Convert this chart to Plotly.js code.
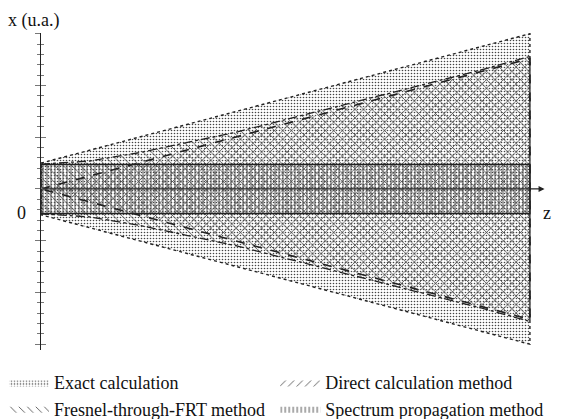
<!DOCTYPE html>
<html>
<head>
<meta charset="utf-8">
<script src="https://cdn.plot.ly/plotly-3.0.1.min.js"></script>
<style>html,body{margin:0;padding:0;background:#fff;}#chart{width:561px;height:419px;}</style>
</head>
<body>
<div id="chart"></div>
<script>
// ---- data ----
const seriesNames = ['Exact calculation', 'Direct calculation method', 'Fresnel-through-FRT method', 'Spectrum propagation method'];
const zExact = [0, 10];
const hwExact = [2.5, 15.0];
const zDirect = [0, 10];
const hwDirect = [0, 12.6];
const zFresnel = [0, 1, 2, 3, 4, 5, 6, 7, 8, 9, 10];
const hwFresnel = [2.4, 2.7, 3.5, 4.5, 5.5, 6.7, 7.9, 9.1, 10.3, 11.5, 12.8];
const zSpectrum = [0, 10];
const hwSpectrum = [2.37, 2.37];
const zAxisEnd = 10.3;

function polygon(z, hw) {
  const xs = [], ys = [];
  for (let i = 0; i < z.length; i++) { xs.push(z[i]); ys.push(hw[i]); }
  for (let i = z.length - 1; i >= 0; i--) { xs.push(z[i]); ys.push(-hw[i]); }
  xs.push(z[0]); ys.push(hw[0]);
  return {x: xs, y: ys};
}

const serif = '"Liberation Serif", "Times New Roman", serif';
const pExact = polygon(zExact, hwExact);
const pDirect = polygon(zDirect, hwDirect);
const pFresnel = polygon(zFresnel, hwFresnel);
const pSpectrum = polygon(zSpectrum, hwSpectrum);

function fillTrace(p, name, pattern, legend) {
  return {x: p.x, y: p.y, type: 'scatter', mode: 'lines', fill: 'toself', name: name,
    fillcolor: 'rgba(0,0,0,0)', line: {width: 0, color: '#333'}, fillpattern: pattern,
    legend: legend, hoverinfo: 'skip'};
}
function edgeTrace(p, dash, width) {
  return {x: p.x, y: p.y, type: 'scatter', mode: 'lines', showlegend: false,
    line: {color: '#222', width: width, dash: dash}, hoverinfo: 'skip'};
}

const traces = [
  fillTrace(pExact, seriesNames[0], {shape: '.', size: 3, solidity: 0.22, fgcolor: '#444', bgcolor: 'rgba(0,0,0,0)', fillmode: 'replace'}, 'legend'),
  fillTrace(pDirect, seriesNames[1], {shape: '/', size: 6, solidity: 0.15, fgcolor: '#555', bgcolor: 'rgba(0,0,0,0)', fillmode: 'replace'}, 'legend2'),
  fillTrace(pFresnel, seriesNames[2], {shape: '\\', size: 6, solidity: 0.15, fgcolor: '#555', bgcolor: 'rgba(0,0,0,0)', fillmode: 'replace'}, 'legend'),
  fillTrace(pSpectrum, seriesNames[3], {shape: '|', size: 4, solidity: 0.25, fgcolor: '#555', bgcolor: 'rgba(0,0,0,0)', fillmode: 'replace'}, 'legend2'),
  edgeTrace(pExact, 'dot', 1.4),
  edgeTrace(pFresnel, 'dashdot', 1.3),
  edgeTrace(pDirect, 'dash', 1.6),
  edgeTrace(pSpectrum, 'solid', 1.4),
  {x: [], y: [], yaxis: 'y2', type: 'scatter', showlegend: false}
];

const yRange = [-15.56, 15.07];
const legendFont = {family: serif, size: 18, color: '#111'};
const labelFont = {family: serif, size: 18, color: '#111'};
const layout = {
  width: 561, height: 419,
  margin: {l: 41, r: 13, t: 33, b: 69, pad: 0, autoexpand: false},
  paper_bgcolor: '#fff', plot_bgcolor: 'rgba(0,0,0,0)',
  showlegend: true,
  font: {family: serif, size: 18, color: '#111'},
  xaxis: {range: [0, 10.37], visible: false, fixedrange: true},
  yaxis: {range: yRange, showgrid: false, zeroline: false, showline: true, linecolor: '#222', linewidth: 1.3,
    ticks: 'outside', ticklen: 5, tickwidth: 1, tickcolor: '#777', tick0: 0, dtick: 5, showticklabels: false,
    minor: {ticks: 'outside', ticklen: 3, tickwidth: 1, tickcolor: '#777', dtick: 1, tick0: 0, showgrid: false}},
  yaxis2: {range: yRange, overlaying: 'y', side: 'left', anchor: 'x', showgrid: false, zeroline: false, showline: false,
    ticks: 'inside', ticklen: 5, tickwidth: 1, tickcolor: '#777', tick0: 0, dtick: 5, showticklabels: false,
    minor: {ticks: 'inside', ticklen: 3, tickwidth: 1, tickcolor: '#777', dtick: 1, tick0: 0, showgrid: false}},
  legend: {x: -0.073, xanchor: 'left', y: -0.045, yanchor: 'top', orientation: 'v', itemwidth: 40,
    font: legendFont, bgcolor: 'rgba(0,0,0,0)', tracegroupgap: 0},
  legend2: {x: 0.462, xanchor: 'left', y: -0.045, yanchor: 'top', orientation: 'v', itemwidth: 40,
    font: legendFont, bgcolor: 'rgba(0,0,0,0)', tracegroupgap: 0},
  annotations: [
    {x: zAxisEnd, y: 0, ax: 0, ay: 0, axref: 'x', ayref: 'y', xref: 'x', yref: 'y', text: '', showarrow: true,
      arrowhead: 2, arrowsize: 1, arrowwidth: 1.2, arrowcolor: '#222'},
    {xref: 'paper', yref: 'paper', x: -0.014, y: 1.041, xanchor: 'center', yanchor: 'middle', text: 'x (u.a.)', showarrow: false, font: labelFont},
    {xref: 'paper', yref: 'paper', x: -0.0375, y: 0.432, xanchor: 'center', yanchor: 'middle', text: '0', showarrow: false, font: labelFont},
    {xref: 'paper', yref: 'paper', x: 0.998, y: 0.432, xanchor: 'center', yanchor: 'middle', text: 'z', showarrow: false, font: labelFont}
  ]
};

Plotly.newPlot('chart', traces, layout, {displayModeBar: false, staticPlot: true});
</script>
</body>
</html>
